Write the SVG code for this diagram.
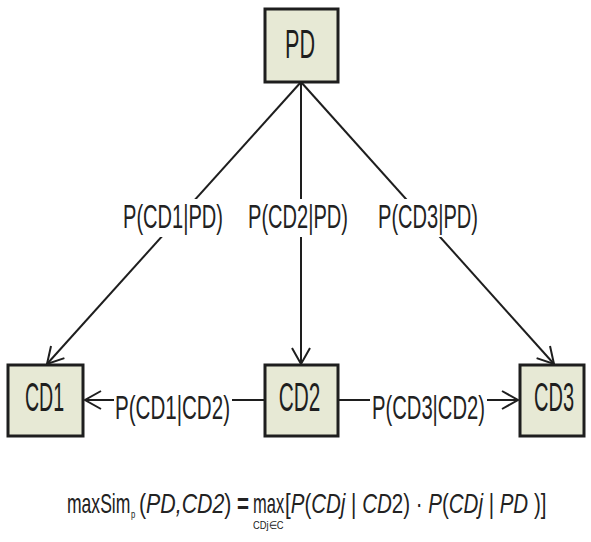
<svg xmlns="http://www.w3.org/2000/svg" width="591" height="542" viewBox="0 0 591 542">
<style>
.box{fill:#e7e9d5;stroke:#1e1e1e;stroke-width:3}
.nl{font-family:"Liberation Sans",Arial,sans-serif;font-size:40px;fill:#1e1e1e;text-anchor:middle}
.el{font-family:"Liberation Sans",Arial,sans-serif;font-size:33px;fill:#222;text-anchor:middle}
.ln{stroke:#1e1e1e;stroke-width:2;fill:none}
.bg{fill:#fff}
.f{font-family:"Liberation Sans",Arial,sans-serif;font-size:27px;fill:#222}
.fs{font-family:"Liberation Sans",Arial,sans-serif;font-size:11px;fill:#222}
</style>
<defs>
<marker id="ah" markerUnits="userSpaceOnUse" markerWidth="30" markerHeight="30" refX="0" refY="0" viewBox="-20 -15 30 30" orient="auto">
<path d="M-16,-9 L0,0 L-16,9" fill="none" stroke="#1e1e1e" stroke-width="2"/>
</marker>
</defs>
<g id="connectors">
<line class="ln" x1="301" y1="82" x2="47" y2="364" marker-end="url(#ah)"/>
<line class="ln" x1="301" y1="82" x2="301" y2="364" marker-end="url(#ah)"/>
<line class="ln" x1="301" y1="82" x2="554" y2="364" marker-end="url(#ah)"/>
<line class="ln" x1="265" y1="400" x2="85" y2="400" marker-end="url(#ah)"/>
<line class="ln" x1="338" y1="400" x2="518" y2="400" marker-end="url(#ah)"/>
<rect class="bg" x="121" y="199" width="104" height="38"/>
<rect class="bg" x="246" y="199" width="104" height="38"/>
<rect class="bg" x="376" y="199" width="104" height="38"/>
<rect class="bg" x="114" y="388" width="118" height="36"/>
<rect class="bg" x="370" y="388" width="117" height="36"/>
<text class="el" transform="translate(173,228) scale(0.608,1)">P(CD1|PD)</text>
<text class="el" transform="translate(298,228) scale(0.608,1)">P(CD2|PD)</text>
<text class="el" transform="translate(428,228) scale(0.608,1)">P(CD3|PD)</text>
<text class="el" transform="translate(172.5,419) scale(0.623,1)">P(CD1|CD2)</text>
<text class="el" transform="translate(428.5,419) scale(0.612,1)">P(CD3|CD2)</text>
</g>
<g id="PD">
<rect class="box" x="265" y="9" width="73" height="73"/>
<text class="nl" transform="translate(300,58) scale(0.54,1)">PD</text>
</g>
<g id="CD1">
<rect class="box" x="8" y="365" width="75" height="71"/>
<text class="nl" transform="translate(44.5,411) scale(0.49,1)">CD1</text>
</g>
<g id="CD2">
<rect class="box" x="265" y="365" width="73" height="71"/>
<text class="nl" transform="translate(299.5,411) scale(0.52,1)">CD2</text>
</g>
<g id="CD3">
<rect class="box" x="520" y="365" width="64" height="71"/>
<text class="nl" transform="translate(554,411) scale(0.5,1)">CD3</text>
</g>
<g id="formula">
<text class="f" transform="translate(67,513) scale(0.65,1)">maxSim</text>
<text class="fs" transform="translate(131,518) scale(0.7,1)" font-size="13">p</text>
<text class="f" transform="translate(139,513) scale(0.79,1)">(<tspan font-style="italic">PD,CD2</tspan>)</text>
<text class="f" transform="translate(237,513) scale(0.76,1)" font-weight="bold">=</text>
<text class="f" transform="translate(253,513) scale(0.61,1)">max</text>
<text class="fs" transform="translate(253,529) scale(0.85,1)">CDj∈C</text>
<text class="f" transform="translate(285,513) scale(0.76,1)">[<tspan font-style="italic">P</tspan>(<tspan font-style="italic">CDj</tspan> | <tspan font-style="italic">CD</tspan>2) · <tspan font-style="italic">P</tspan>(<tspan font-style="italic">CDj</tspan> | <tspan font-style="italic">PD</tspan> )]</text>
</g>
</svg>
